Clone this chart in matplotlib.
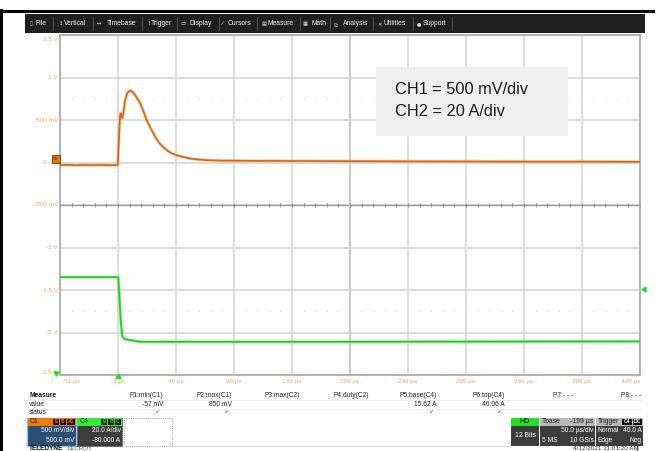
import numpy as np
import matplotlib
matplotlib.use("Agg")
import matplotlib.pyplot as plt
from matplotlib.patches import Rectangle
from matplotlib.transforms import offset_copy

plt.rcParams['font.family'] = ['Liberation Sans', 'DejaVu Sans']

# ---- acquisition data -------------------------------------------------
# C1: voltage (V) versus time (µs)
c1_t = [-51, -45, -38, -30, -22, -15, -8, -1.2, -0.8, 0.0, 0.8, 1.3, 2.0, 2.7,
        3.5, 5.0, 7.0, 9.3, 11, 14, 18, 21, 23.7, 26.5, 29.4, 32, 35.2, 38, 41,
        45, 49.6, 55, 61, 68, 75.5, 90, 110, 150, 200, 250, 300, 350, 400, 449]
c1_v = [-0.030, -0.028, -0.032, -0.029, -0.031, -0.030, -0.032, -0.030, 0.10,
        0.35, 0.55, 0.58, 0.54, 0.52, 0.57, 0.72, 0.82, 0.845, 0.84, 0.79, 0.70,
        0.60, 0.50, 0.42, 0.345, 0.28, 0.22, 0.18, 0.145, 0.11, 0.086, 0.065,
        0.047, 0.035, 0.027, 0.022, 0.020, 0.018, 0.016, 0.013, 0.012, 0.010,
        0.010, 0.008]

# C4: current (A) versus time (µs)
c4_t = [-51, -30, -10, -0.8, 0.1, 1.3, 2.7, 4.5, 6.5, 12, 18, 100, 200, 300, 449]
c4_a = [46.06, 46.06, 46.06, 46.06, 38.4, 25.8, 18.3, 17.0, 16.7, 16.2, 15.62,
        15.62, 15.62, 15.70, 15.80]

# channel / timebase settings
C1_SCALE, C1_OFFSET = 0.5, 0.5        # V/div, V
C4_SCALE, C4_OFFSET = 20.0, -80.0     # A/div, A
T_START, T_DIV, N_XDIV = -51, 50, 10
V_BOTTOM, N_YDIV = -2.5, 8
SCREEN_CENTER = -0.5                  # V, in C1 screen units

x_labels = ["-51 µs", "-1 µs", "49 µs", "99 µs", "149 µs", "199 µs",
            "249 µs", "299 µs", "349 µs", "399 µs", "449 µs"]
y_labels = ["-2.5 V", "-2 V", "-1.5 V", "-1 V", "-500 mV", "0 mV",
            "500 mV", "1 V", "1.5 V"]

meas_names = ["P1:min(C1)", "P2:max(C1)", "P3:max(C2)", "P4:duty(C2)",
              "P5:base(C4)", "P6:top(C4)", "P7:- - -", "P8:- - -"]
meas_values = ["-57 mV", "850 mV", "", "", "15.62 A", "46.06 A", "", ""]
meas_ok = [True, True, False, False, True, True, False, False]

# ---- figure ------------------------------------------------------------
W, H = 658, 451
fig = plt.figure(figsize=(W / 100, H / 100), dpi=100)
fig.patch.set_facecolor("white")

ax = fig.add_axes([60 / W, (H - 375) / H, 580 / W, 340 / H])
x_ticks = [T_START + i * T_DIV for i in range(N_XDIV + 1)]
y_ticks = [V_BOTTOM + i * C1_SCALE for i in range(N_YDIV + 1)]
ax.set_xlim(x_ticks[0], x_ticks[-1])
ax.set_ylim(y_ticks[0], y_ticks[-1])
ax.set_xticks(x_ticks)
ax.set_yticks(y_ticks)
ax.tick_params(length=0, labelbottom=False, labelleft=False)
ax.grid(True, color="#dadada", lw=1.3)
ax.set_axisbelow(True)
for s in ax.spines.values():
    s.set_color("#a8a8a8")
    s.set_linewidth(1.2)

# centre cross with fine graduations
t_mid = x_ticks[N_XDIV // 2]
ax.axhline(SCREEN_CENTER, color="#9a9a9a", lw=1.0, zorder=1)
ax.axvline(t_mid, color="#c8c8c8", lw=1.3, zorder=1)
sub_t = np.arange(x_ticks[0], x_ticks[-1] + 0.1, T_DIV / 5)
ax.plot(sub_t, np.full_like(sub_t, SCREEN_CENTER), ls="none", marker="|",
        ms=3.5, mew=0.7, color="#8a8a8a", zorder=1)
# dotted guide lines
for lvl in (SCREEN_CENTER + 2.5 * C1_SCALE, SCREEN_CENTER - 2.5 * C1_SCALE):
    ax.plot(sub_t, np.full_like(sub_t, lvl), ls="none", marker="s", ms=0.7,
            mew=0, color="#cfcfcf", zorder=1)

# traces
c4_screen = [SCREEN_CENTER + (a + C4_OFFSET) / C4_SCALE * C1_SCALE for a in c4_a]
ax.plot(c1_t, c1_v, color="#f0b070", lw=2.4, alpha=0.55, zorder=3,
        solid_joinstyle="round")
ax.plot(c1_t, c1_v, color="#cf6a1a", lw=1.2, zorder=4, solid_joinstyle="round")
ax.plot(c4_t, c4_screen, color="#7ee87e", lw=2.4, alpha=0.55, zorder=3)
ax.plot(c4_t, c4_screen, color="#1fd21f", lw=1.3, zorder=4)

# axis labels (drawn as text so first/last can be aligned to the edges)
lab_col = "#f2a45c"
xt = offset_copy(ax.transData, fig=fig, x=0, y=-5, units="points")
for i, (t, s) in enumerate(zip(x_ticks, x_labels)):
    ha = "left" if i == 0 else ("right" if i == len(x_ticks) - 1 else "center")
    dx = 1.5 if i == 0 else 0
    ax.text(t + dx, y_ticks[0], s, transform=xt, ha=ha, va="center",
            fontsize=4.6, color=lab_col, clip_on=False)
yt = offset_copy(ax.transData, fig=fig, x=-1.5, y=0, units="points")
for v, s in zip(y_ticks, y_labels):
    va = "top" if v == y_ticks[-1] else ("bottom" if v == y_ticks[0] else "center")
    dy = -0.02 if v == y_ticks[-1] else 0
    ax.text(x_ticks[0], v + dy, s, transform=yt, ha="right", va=va,
            fontsize=4.6, color=lab_col, clip_on=False)

# ---- overlay (pixel coordinates) for the instrument UI ------------------
ov = fig.add_axes([0, 0, 1, 1], facecolor="none")
ov.set_xlim(0, W)
ov.set_ylim(H, 0)
ov.axis("off")

def rect(x0, y0, x1, y1, fc, ec="none", lw=0.8, ls="-", z=5):
    ov.add_patch(Rectangle((x0, y0), x1 - x0, y1 - y0, facecolor=fc,
                           edgecolor=ec, lw=lw, ls=ls, zorder=z))

def txt(x, y, s, ha="left", size=4.6, color="#222222", weight="normal", z=8):
    ov.text(x, y, s, ha=ha, va="center", fontsize=size, color=color,
            fontweight=weight, zorder=z)

# outer frame lines
ov.plot([0, 653], [10.5, 10.5], color="black", lw=2.2, zorder=9)
ov.plot([1, 1], [10, H], color="black", lw=2.2, zorder=9)

# menu bar
rect(25, 14, 645, 33, "#1f1f1f")
menu = [(30, "▯", 36, "File", 53), (58.5, "↕", 63.5, "Vertical", 93),
        (96.5, "↔", 107, "Timebase", 142), (146, "↾", 150.5, "Trigger", 177),
        (181, "▭", 190, "Display", 219), (222, "⁄", 228, "Cursors", 257),
        (262, "▤", 268, "Measure", 300), (303, "▦", 311, "Math", 330),
        (333, "⊵", 343, "Analysis", 373), (377, "✕", 383, "Utilities", 413),
        (417, "●", 423, "Support", 452)]
for ix, icon, tx, name, sep in menu:
    ov.text(ix, 23.5, icon, ha="left", va="center", fontsize=3.8,
            color="#e8e8e8", family="DejaVu Sans", zorder=8)
    txt(tx, 23.5, name, size=4.9, color="#f2f2f2")
    ov.plot([sep, sep], [17, 30], color="#5a5a5a", lw=0.6, zorder=7)

# annotation box
rect(376, 67, 568, 136, "#f0f0f0", z=6)
txt(395, 90, "CH1 = 500 mV/div", size=11.8, color="#1a1a1a")
txt(395, 111, "CH2 = 20 A/div", size=11.8, color="#1a1a1a")

# screen markers
rect(51.5, 155, 60, 163, "#e07414", ec="#7a3a00", lw=0.6, z=9)
ov.text(55.7, 159, "C1", ha="center", va="center", fontsize=2.8,
        color="#3a1a00", zorder=10)
ov.fill([54, 59, 56.5], [372, 372, 376], color="#22dd22", zorder=9)
ov.fill([116, 121, 118.5], [378.5, 378.5, 374], color="#22dd22", zorder=9)
ov.fill([646, 646, 642], [287, 292, 289.5], color="#22dd22", zorder=9)

# measurement table
txt(29, 395.5, "Measure", size=4.8, weight="bold", color="#111111")
txt(29, 404.5, "value", size=4.8)
txt(29, 413, "status", size=4.8)
for yy in (399.5, 408.5):
    ov.plot([27, 641], [yy, yy], color="#e4e4e4", lw=0.5, zorder=6)
col_right = [163, 232, 300, 369, 437, 505, 573, 641]
for xr, name, val, ok in zip(col_right, meas_names, meas_values, meas_ok):
    txt(xr, 395.5, name, ha="right", size=4.8)
    if val:
        txt(xr, 404.5, val, ha="right", size=4.8)
    if ok:
        ov.text(xr - 6, 412.5, "✔", ha="center", va="center", fontsize=4.5,
                color="#3cb82c", family="DejaVu Sans", zorder=8)

# channel descriptor boxes
def badges(x_right, letters, fg, y0=418.5, y1=424.5, w=6):
    x = x_right
    for s in reversed(letters):
        bw = w + (2.5 if len(s) > 1 else 0)
        rect(x - bw, y0, x, y1, "#111111", z=7)
        ov.text(x - bw / 2, (y0 + y1) / 2, s, ha="center", va="center",
                fontsize=3.6, color=fg, fontweight="bold", zorder=8)
        x -= bw + 0.8

rect(27, 417.5, 76, 445.5, "#2b4e73", ec="#8fbbe6", lw=1.0, z=6)
rect(27.5, 418, 75.5, 425.5, "#ef7a06", z=7)
txt(30, 421.7, "C1", size=4.9, color="#1a1a1a")
badges(75, ["E", "B", "A1"], "#ef7a06")
txt(74, 431, "500 mV/div", ha="right", size=4.8, color="#ffffff")
txt(74, 440, "500.0 mV", ha="right", size=4.8, color="#ffffff")

rect(77, 417.5, 122, 445.5, "#3d3d3d", ec="#6a6a6a", lw=0.6, z=6)
rect(77.3, 418, 121.7, 425.5, "#2ef02e", z=7)
txt(80, 421.7, "C4", size=4.9, color="#1a1a1a")
badges(121, ["E", "B", "C"], "#2ef02e")
txt(120.5, 431, "20.0 A/div", ha="right", size=4.8, color="#ffffff")
txt(120.5, 440, "-80.000 A", ha="right", size=4.8, color="#ffffff")

rect(123.5, 418, 172, 445.5, "none", ec="#9a9a9a", lw=0.7, ls=(0, (1, 1.2)), z=6)
ov.plot([172, 511], [445.5, 445.5], color="#cfcfcf", lw=0.6, zorder=6)

# acquisition status boxes
rect(511, 417.5, 539, 445.5, "#3d3d3d", z=6)
rect(511, 417.5, 539, 425.5, "#22e022", z=7)
txt(525, 421.7, "HD", ha="center", size=5, color="#111111")
txt(525, 435.5, "12 Bits", ha="center", size=4.9, color="#ffffff")

rect(540, 417.5, 595, 445.5, "#3d3d3d", z=6)
rect(540, 417.5, 595, 425.5, "#b9b9b9", z=7)
txt(542, 421.7, "Tbase", size=4.9, color="#1a1a1a")
txt(593.5, 421.7, "-199 µs", ha="right", size=4.9, color="#1a1a1a")
txt(593.5, 431, "50.0 µs/div", ha="right", size=4.8, color="#ffffff")
txt(542, 440, "5 MS", size=4.8, color="#ffffff")
txt(593.5, 440, "10 GS/s", ha="right", size=4.8, color="#ffffff")

rect(596, 417.5, 643, 445.5, "#3d3d3d", z=6)
rect(596, 417.5, 643, 425.5, "#b9b9b9", z=7)
txt(598, 421.7, "Trigger", size=4.9, color="#1a1a1a")
badges(642, ["C4", "DC"], "#ffffff", w=7)
txt(598, 431, "Normal", size=4.8, color="#ffffff")
txt(641.5, 431, "40.0 A", ha="right", size=4.8, color="#ffffff")
txt(598, 440, "Edge", size=4.8, color="#ffffff")
txt(641.5, 440, "Neg", ha="right", size=4.8, color="#ffffff")

# footer
txt(573, 448.8, "4/12/2021 11:01:20 AM", size=4.6, color="#333333")
ov.plot([636.5, 636.5], [446, 451], color="#555555", lw=0.6, zorder=6)
txt(29, 448.3, "TELEDYNE", size=4.7, weight="bold", color="#111111")
txt(67, 448.3, "LECROY", size=4.4, color="#555555")

fig.savefig("out.png", dpi=100, facecolor=fig.get_facecolor())
